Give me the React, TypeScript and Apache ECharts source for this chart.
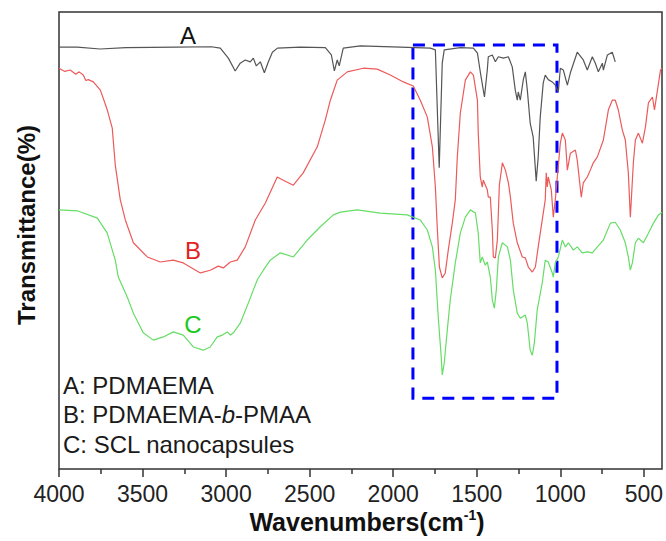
import React, { useEffect, useRef } from 'react';
import * as echarts from 'echarts';

const FONT = 'Liberation Sans, Arial, sans-serif';

// x axis tick values (cm-1)
const xTickMin = 500;
const xTickMax = 4000;
const xTickStep = 500;

// Spectrum A: PDMAEMA  [wavenumber, transmittance (a.u.)]
const specA: [number, number][] = [
  [4000, 92.3], [3890, 92.3], [3755, 91.9], [3600, 92.2], [3300, 92.3], [3090, 92.4],
  [3037, 92.1], [2989, 89.9], [2948, 87.1], [2918, 88.8], [2888, 89.5], [2858, 89.1],
  [2840, 89.9], [2822, 88.2], [2798, 89.1], [2774, 86.7], [2750, 89.1], [2726, 91.2],
  [2696, 92.1], [2559, 92.3], [2410, 92.2], [2374, 90.6], [2356, 87.1], [2339, 89.5],
  [2327, 88.2], [2303, 92.1], [2201, 92.6], [1963, 92.3], [1783, 92.1], [1753, 91.7],
  [1730, 65.9], [1712, 88.8], [1700, 91.7], [1604, 92.2], [1526, 92.1], [1502, 91.0],
  [1484, 86.7], [1460, 81.4], [1443, 87.3], [1437, 90.2], [1413, 90.6], [1395, 89.1],
  [1377, 90.2], [1347, 89.9], [1317, 90.2], [1294, 88.0], [1276, 82.9], [1264, 80.7],
  [1258, 82.5], [1246, 80.7], [1228, 85.2], [1216, 86.9], [1204, 82.9], [1187, 75.7],
  [1169, 72.6], [1151, 63.0], [1139, 68.3], [1127, 77.0], [1109, 84.5], [1097, 86.2],
  [1079, 85.2], [1055, 84.7], [1037, 84.0], [1019, 82.5], [1007, 87.7], [989, 87.3],
  [965, 84.0], [947, 86.7], [906, 91.2], [870, 89.5], [846, 87.3], [816, 90.2],
  [798, 88.8], [780, 86.9], [756, 88.8], [750, 87.3], [726, 90.6], [697, 91.2], [679, 89.1],
];

// Spectrum B: PDMAEMA-b-PMAA
const specB: [number, number][] = [
  [4000, 87.7], [3965, 87.0], [3933, 87.3], [3900, 86.4], [3880, 86.9], [3855, 86.2],
  [3840, 85.0], [3825, 85.2], [3795, 84.7], [3753, 82.9], [3712, 78.6], [3682, 74.6],
  [3664, 66.5], [3634, 58.9], [3604, 54.5], [3556, 49.5], [3473, 46.4], [3395, 45.3],
  [3318, 45.7], [3258, 45.1], [3156, 42.9], [3097, 43.5], [3049, 44.4], [3019, 44.0],
  [2977, 45.3], [2936, 45.7], [2888, 48.6], [2828, 54.5], [2768, 58.2], [2697, 63.9],
  [2661, 63.2], [2601, 62.1], [2542, 64.8], [2458, 70.5], [2410, 76.4], [2380, 80.7],
  [2339, 85.1], [2279, 86.9], [2183, 87.7], [2100, 87.5], [2022, 86.2], [1944, 84.7],
  [1885, 83.8], [1843, 80.7], [1801, 77.0], [1771, 70.5], [1753, 61.7], [1741, 52.3],
  [1729, 44.2], [1712, 41.8], [1694, 42.9], [1676, 47.9], [1652, 53.8], [1634, 58.9],
  [1622, 68.3], [1604, 77.9], [1574, 85.1], [1544, 86.9], [1526, 86.2], [1502, 80.7],
  [1497, 73.5], [1485, 63.9], [1473, 61.7], [1467, 63.2], [1443, 61.1], [1437, 59.5],
  [1425, 59.5], [1413, 52.3], [1407, 46.4], [1395, 46.2], [1383, 50.1], [1371, 62.1],
  [1353, 67.0], [1335, 65.4], [1317, 62.6], [1305, 59.5], [1288, 53.8], [1264, 49.5],
  [1234, 46.4], [1216, 46.2], [1198, 44.2], [1174, 43.1], [1156, 44.2], [1139, 48.6],
  [1115, 54.5], [1097, 58.9], [1091, 64.8], [1085, 61.7], [1079, 63.9], [1061, 61.1],
  [1049, 55.1], [1037, 58.9], [1025, 63.9], [1007, 71.3], [995, 73.5], [977, 72.0],
  [965, 65.4], [947, 69.1], [917, 69.8], [906, 67.6], [882, 59.5], [870, 62.6],
  [846, 63.9], [828, 65.4], [810, 67.0], [786, 68.3], [750, 72.0], [720, 78.6],
  [697, 80.7], [679, 80.7], [661, 78.6], [637, 74.2], [619, 72.0], [601, 64.8],
  [589, 55.1], [571, 67.0], [559, 72.0], [541, 73.5], [517, 71.3], [499, 74.8],
  [481, 80.1], [457, 81.4], [445, 78.6], [427, 82.9], [409, 87.3], [400, 87.7],
];

// Spectrum C: SCL nanocapsules
const specC: [number, number][] = [
  [4000, 56.7], [3891, 56.5], [3771, 54.9], [3712, 51.6], [3664, 45.7], [3646, 42.0],
  [3592, 37.6], [3556, 34.1], [3497, 29.8], [3437, 28.2], [3377, 28.9], [3318, 30.0],
  [3258, 29.3], [3198, 26.7], [3139, 26.0], [3097, 26.7], [3055, 28.9], [3025, 29.3],
  [2995, 30.0], [2977, 29.3], [2959, 29.8], [2918, 31.9], [2870, 36.3], [2816, 41.4],
  [2780, 43.5], [2739, 45.7], [2679, 47.3], [2601, 46.4], [2518, 50.1], [2440, 53.0],
  [2362, 55.6], [2320, 56.2], [2219, 56.7], [2082, 56.0], [1921, 55.6], [1843, 54.5],
  [1801, 52.3], [1771, 48.6], [1753, 43.5], [1736, 33.3], [1718, 24.5], [1712, 20.6],
  [1700, 23.2], [1682, 30.4], [1664, 37.0], [1634, 45.1], [1604, 51.6], [1574, 55.1],
  [1544, 56.7], [1514, 56.0], [1497, 51.6], [1485, 45.1], [1473, 46.4], [1455, 44.6],
  [1443, 45.3], [1425, 42.0], [1413, 37.0], [1401, 35.2], [1389, 39.2], [1377, 46.4],
  [1353, 49.5], [1323, 48.6], [1305, 45.7], [1288, 39.2], [1264, 34.1], [1246, 33.0],
  [1216, 33.7], [1204, 31.9], [1187, 26.0], [1174, 24.9], [1162, 27.6], [1145, 34.8],
  [1115, 40.7], [1097, 45.7], [1079, 45.3], [1055, 42.9], [1049, 42.0], [1037, 45.1],
  [1019, 46.4], [995, 50.1], [977, 48.6], [959, 49.5], [929, 47.9], [906, 48.6],
  [876, 47.3], [846, 47.5], [816, 47.3], [786, 48.6], [750, 50.1], [708, 53.8],
  [679, 54.0], [649, 52.3], [619, 49.5], [601, 46.4], [589, 43.5], [577, 45.1],
  [559, 49.5], [541, 50.5], [511, 49.5], [481, 51.6], [451, 53.8], [421, 55.6], [400, 56.2],
];

// Highlighted region (dashed box) in data coordinates
const boxCorners: [number, number][] = [[1887, 92.8], [1027, 15.5]];

const legendLines = ['A: PDMAEMA', 'B: PDMAEMA-b-PMAA', 'C: SCL nanocapsules'];

export default function App() {
  const ref = useRef<HTMLDivElement>(null);
  useEffect(() => {
    document.body.style.margin = '0';
    const chart = echarts.init(ref.current!, undefined, { renderer: 'svg' });
    const txt = (x: number, y: number, text: string, size: number, fill: string, extra: any = {}) => ({
      type: 'text',
      x,
      y,
      style: {
        text,
        fontSize: size,
        fontFamily: FONT,
        fill,
        align: extra.align || 'center',
        verticalAlign: 'middle',
        textAlign: extra.align || 'center',
        textVerticalAlign: 'middle',
      },
    });
    chart.setOption({
      animation: false,
      backgroundColor: '#ffffff',
      grid: [
        { left: 59, right: 4, top: 12, bottom: 72, show: true, borderColor: '#333', borderWidth: 1.5, backgroundColor: 'transparent' },
        { left: 59, right: 20.75, top: 12, bottom: 72 },
      ],
      xAxis: [
        {
          type: 'value', gridIndex: 0, min: 400, max: 4000, inverse: true,
          axisLine: { show: false }, axisTick: { show: false }, axisLabel: { show: false }, splitLine: { show: false },
        },
        {
          type: 'value', gridIndex: 1, min: xTickMin, max: xTickMax, interval: xTickStep, inverse: true,
          axisLine: { show: false },
          axisTick: { show: true, length: 8, lineStyle: { color: '#333', width: 1.5 } },
          minorTick: { show: true, splitNumber: 2, length: 5, lineStyle: { color: '#333', width: 1.5 } },
          axisLabel: { fontSize: 23, fontFamily: FONT, color: '#222', margin: 13, formatter: (v: number) => String(v) },
          splitLine: { show: false },
        },
      ],
      yAxis: [
        { type: 'value', gridIndex: 0, min: 0, max: 100, axisLine: { show: false }, axisTick: { show: false }, axisLabel: { show: false }, splitLine: { show: false } },
        { type: 'value', gridIndex: 1, min: 0, max: 100, show: false },
      ],
      series: [
        {
          name: 'A', type: 'line', xAxisIndex: 0, yAxisIndex: 0, data: specA, symbol: 'none',
          lineStyle: { color: '#555555', width: 1.2 },
        },
        {
          name: 'B', type: 'line', xAxisIndex: 0, yAxisIndex: 0, data: specB, symbol: 'none',
          lineStyle: { color: '#ec5a5a', width: 1.2 },
        },
        {
          name: 'C', type: 'line', xAxisIndex: 0, yAxisIndex: 0, data: specC, symbol: 'none',
          lineStyle: { color: '#66dd66', width: 1.2 },
          markArea: {
            silent: true,
            itemStyle: { color: 'rgba(0,0,0,0)', borderColor: '#0000ff', borderWidth: 3, borderType: [12, 8] },
            data: [[{ coord: boxCorners[0] }, { coord: boxCorners[1] }]],
          },
        },
      ],
      graphic: [
        txt(188, 35, 'A', 24, '#111'),
        txt(193, 250, 'B', 24, '#e31e1e'),
        txt(193, 324, 'C', 24, '#1ec81e'),
        txt(63, 385, legendLines[0], 24, '#1a1a1a', { align: 'left' }),
        {
          type: 'text', x: 63, y: 414,
          style: {
            text: '{n|B: PDMAEMA-}{i|b}{n|-PMAA}',
            rich: {
              n: { fontSize: 24, fontFamily: FONT, fill: '#1a1a1a' },
              i: { fontSize: 24, fontFamily: FONT, fill: '#1a1a1a', fontStyle: 'italic' },
            },
            align: 'left', verticalAlign: 'middle', textAlign: 'left', textVerticalAlign: 'middle',
          },
        },
        txt(63, 444, legendLines[2], 24, '#1a1a1a', { align: 'left' }),
        {
          type: 'text', x: 26, y: 225, rotation: Math.PI / 2,
          style: {
            text: 'Transmittance(%)', fontSize: 24, fontWeight: 'bold', fontFamily: FONT, fill: '#111',
            align: 'center', verticalAlign: 'middle', textAlign: 'center', textVerticalAlign: 'middle',
          },
        },
        {
          type: 'text', x: 367, y: 522,
          style: {
            text: '{b|Wavenumbers(cm}{s|-1}{b|)}',
            rich: {
              b: { fontSize: 25, fontWeight: 'bold', fontFamily: FONT, fill: '#111', lineHeight: 28 },
              s: { fontSize: 14, fontWeight: 'bold', fontFamily: FONT, fill: '#111', lineHeight: 14, verticalAlign: 'top' },
            },
            align: 'center', verticalAlign: 'middle', textAlign: 'center', textVerticalAlign: 'middle',
          },
        },
      ],
    });
    return () => chart.dispose();
  }, []);
  return <div ref={ref} style={{ width: 666, height: 541 }} />;
}
